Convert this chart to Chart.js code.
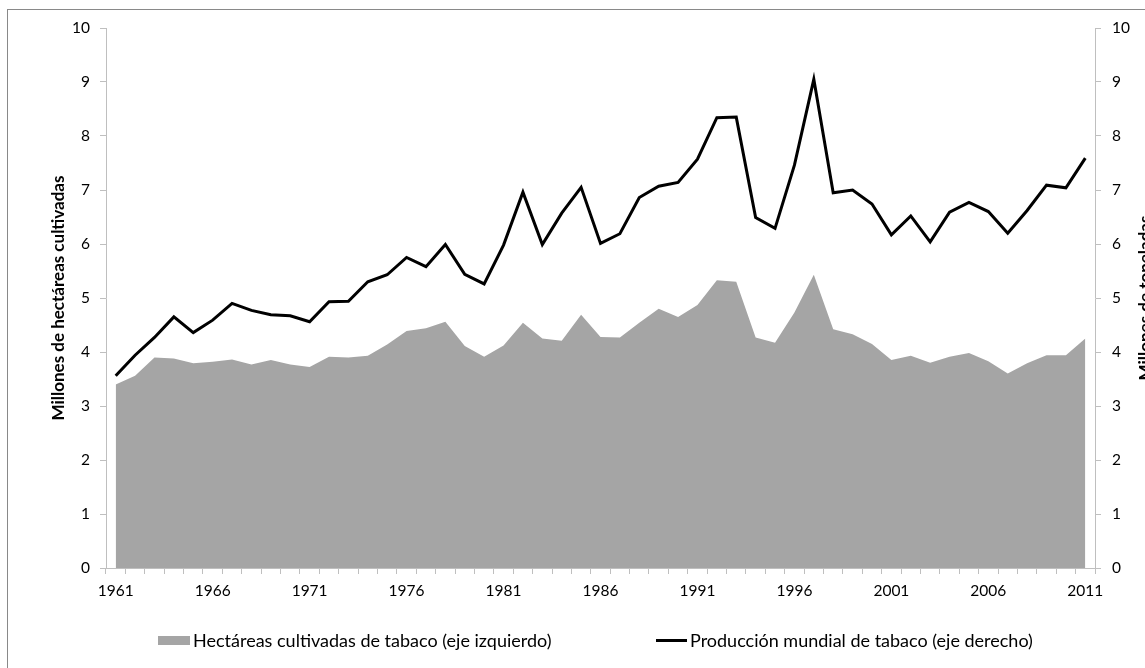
<!DOCTYPE html>
<html>
<head>
<meta charset="utf-8">
<script src="https://cdn.jsdelivr.net/npm/chart.js@4/dist/chart.umd.min.js"></script>
<style>
    html, body { margin: 0; padding: 0; background: #fff; overflow: hidden; }
    #wrap { position: relative; width: 1145px; height: 668px; }
    #frame {
        position: absolute; left: 7px; top: 9px; width: 1300px; height: 800px;
        border: 1px solid #898989; pointer-events: none;
    }
    .legend-item {
        position: absolute; top: 629px; height: 22px; display: flex; align-items: center;
        font-family: Lato, sans-serif; font-size: 18px; color: #000; white-space: nowrap;
    }
    .legend-box { display: inline-block; margin-right: 3px; }
</style>
</head>
<body>
<div id="wrap">
    <canvas id="chart" width="1145" height="668"></canvas>
    <div id="legend"></div>
    <div id="frame"></div>
</div>
<script>
const years = [
    "1961", "1962", "1963", "1964", "1965", "1966", "1967", "1968", "1969", "1970",
    "1971", "1972", "1973", "1974", "1975", "1976", "1977", "1978", "1979", "1980",
    "1981", "1982", "1983", "1984", "1985", "1986", "1987", "1988", "1989", "1990",
    "1991", "1992", "1993", "1994", "1995", "1996", "1997", "1998", "1999", "2000",
    "2001", "2002", "2003", "2004", "2005", "2006", "2007", "2008", "2009", "2010",
    "2011"
];

// millones de hectáreas (eje izquierdo)
const hectareas = [
    3.40, 3.56, 3.90, 3.88, 3.79, 3.82, 3.86, 3.77, 3.85, 3.77,
    3.72, 3.91, 3.90, 3.93, 4.14, 4.39, 4.44, 4.56, 4.11, 3.91,
    4.12, 4.54, 4.25, 4.21, 4.69, 4.28, 4.27, 4.54, 4.80, 4.65,
    4.87, 5.33, 5.30, 4.27, 4.17, 4.73, 5.43, 4.42, 4.33, 4.15,
    3.85, 3.93, 3.80, 3.91, 3.98, 3.83, 3.60, 3.79, 3.94, 3.94,
    4.25
];

// millones de toneladas (eje derecho)
const produccion = [
    3.56, 3.94, 4.27, 4.65, 4.36, 4.59, 4.90, 4.77, 4.69, 4.67,
    4.56, 4.93, 4.94, 5.30, 5.43, 5.75, 5.58, 5.99, 5.44, 5.26,
    5.98, 6.96, 5.99, 6.57, 7.05, 6.01, 6.19, 6.86, 7.07, 7.14,
    7.57, 8.34, 8.35, 6.49, 6.29, 7.46, 9.05, 6.95, 7.00, 6.74,
    6.17, 6.52, 6.04, 6.59, 6.77, 6.60, 6.20, 6.62, 7.09, 7.04,
    7.59
];

const yTicks = [0, 1, 2, 3, 4, 5, 6, 7, 8, 9, 10];

const FONT = "Lato";
const AXIS_GREY = "#bfbfbf";

const rightTitle = {
    id: "rightTitle",
    afterDraw(chart) {
        const ctx = chart.ctx;
        ctx.save();
        ctx.font = `bold 17px ${FONT}`;
        ctx.fillStyle = "#000";
        ctx.textAlign = "center";
        ctx.textBaseline = "middle";
        ctx.translate(1146, (chart.chartArea.top + chart.chartArea.bottom) / 2);
        ctx.rotate(-Math.PI / 2);
        ctx.fillText("Millones de toneladas", 0, 0);
        ctx.restore();
    }
};

function yAxis(position, padding) {
    return {
        type: "linear",
        position,
        min: 0,
        max: 10,
        afterBuildTicks: (scale) => { scale.ticks = yTicks.map((v) => ({ value: v })); },
        ticks: { color: "#000", padding, font: { family: FONT, size: 15.5 } },
        grid: { drawOnChartArea: false, color: AXIS_GREY, tickLength: 6 },
        border: { color: AXIS_GREY }
    };
}

const leftAxis = yAxis("left", 10);
leftAxis.afterFit = (scale) => { scale.width = 106; };
leftAxis.title = {
    display: true,
    text: "Millones de hectáreas cultivadas",
    color: "#000",
    font: { family: FONT, size: 17, weight: "bold" },
    padding: { top: 48, bottom: 0 }
};

const rightAxis = yAxis("right", 11);
rightAxis.afterFit = (scale) => { scale.width = 50; };

const chart = new Chart(document.getElementById("chart"), {
    type: "line",
    data: {
        labels: years,
        datasets: [
            {
                label: "Hectáreas cultivadas de tabaco (eje izquierdo)",
                data: hectareas,
                yAxisID: "y",
                backgroundColor: "#a5a5a5",
                borderWidth: 0,
                pointRadius: 0,
                fill: "origin",
                order: 1
            },
            {
                label: "Producción mundial de tabaco (eje derecho)",
                data: produccion,
                yAxisID: "y2",
                borderColor: "#000",
                borderWidth: 3,
                pointRadius: 0,
                fill: false,
                order: 0
            }
        ]
    },
    options: {
        responsive: false,
        animation: false,
        layout: { padding: { top: 28, left: 0, right: 0, bottom: 0 } },
        plugins: { legend: { display: false }, tooltip: { enabled: false } },
        scales: {
            x: {
                type: "category",
                offset: true,
                afterFit: (scale) => { scale.height = 100; },
                ticks: {
                    color: "#000",
                    autoSkip: false,
                    maxRotation: 0,
                    padding: 8,
                    font: { family: FONT, size: 15.5 },
                    callback: (value, index) => (index % 5 === 0 ? years[index] : "")
                },
                grid: { offset: true, drawOnChartArea: false, color: AXIS_GREY, tickLength: 6 },
                border: { color: AXIS_GREY }
            },
            y: leftAxis,
            y2: rightAxis
        }
    },
    plugins: [rightTitle]
});

// leyenda en HTML, a partir de los datasets
const legendPos = [
    { left: 158, box: { width: 32, height: 9 } },
    { left: 656, box: { width: 31, height: 3 } }
];
const legend = document.getElementById("legend");
chart.data.datasets.forEach((ds, i) => {
    const item = document.createElement("div");
    item.className = "legend-item";
    item.style.left = legendPos[i].left + "px";
    const box = document.createElement("span");
    box.className = "legend-box";
    box.style.width = legendPos[i].box.width + "px";
    box.style.height = legendPos[i].box.height + "px";
    box.style.background = ds.fill ? ds.backgroundColor : ds.borderColor;
    const text = document.createElement("span");
    text.textContent = ds.label;
    item.appendChild(box);
    item.appendChild(text);
    legend.appendChild(item);
});
</script>
</body>
</html>
